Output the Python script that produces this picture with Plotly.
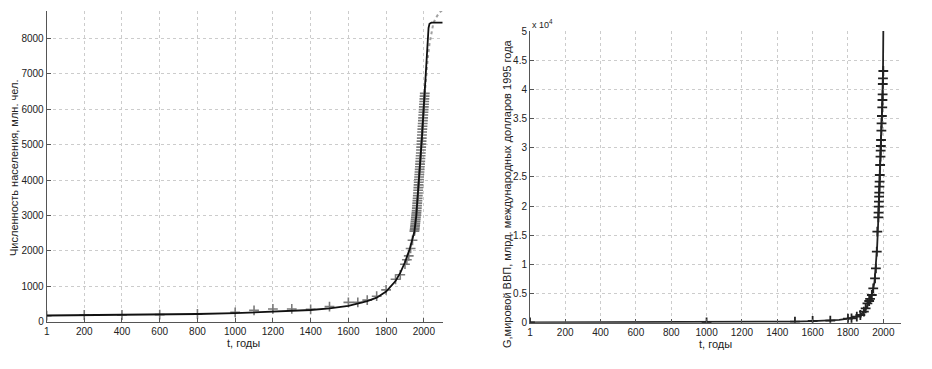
import plotly.graph_objects as go

# ---------------- Left chart: world population ----------------
pop_years = [1, 200, 400, 600, 800, 1000, 1100, 1200, 1300, 1400, 1500, 1600, 1650,
             1700, 1750, 1800, 1850, 1875, 1900, 1910, 1920, 1930, 1940,
             1950, 1951, 1952, 1953, 1954, 1955, 1956, 1957, 1958, 1959,
             1960, 1961, 1962, 1963, 1964, 1965, 1966, 1967, 1968, 1969,
             1970, 1971, 1972, 1973, 1974, 1975, 1976, 1977, 1978, 1979,
             1980, 1981, 1982, 1983, 1984, 1985, 1986, 1987, 1988, 1989,
             1990, 1991, 1992, 1993, 1994, 1995, 1996, 1997, 1998, 1999,
             2000, 2001, 2002, 2003, 2004, 2005]
pop_values = [170, 190, 190, 200, 220, 265, 320, 360, 360, 350, 425, 545, 545,
              610, 720, 900, 1200, 1325, 1625, 1750, 1860, 2070, 2300,
              2557, 2594, 2636, 2682, 2730, 2782, 2835, 2891, 2948, 3001,
              3043, 3084, 3140, 3210, 3281, 3350, 3421, 3490, 3562, 3637,
              3713, 3790, 3867, 3942, 4017, 4089, 4160, 4232, 4304, 4379,
              4454, 4530, 4610, 4690, 4769, 4850, 4932, 5017, 5102, 5188,
              5276, 5360, 5441, 5522, 5602, 5682, 5761, 5839, 5917, 5993,
              6070, 6146, 6222, 6298, 6375, 6451]

model_pop_years = [1, 200, 400, 600, 800, 1000, 1200, 1400, 1500, 1600, 1700, 1750,
                   1800, 1850, 1875, 1900, 1925, 1950, 1960, 1970, 1980, 1990,
                   2000, 2005, 2010, 2015, 2020, 2025, 2030, 2035, 2040, 2060, 2100]
model_pop_values = [175, 183, 192, 203, 218, 240, 275, 330, 375, 450, 580, 680,
                    850, 1150, 1380, 1680, 2050, 2550, 3000, 3650, 4400, 5200,
                    6100, 6550, 7000, 7500, 7950, 8300, 8420, 8445, 8450, 8450, 8450]

forecast_years = [2000, 2010, 2020, 2030, 2040, 2050, 2060, 2070, 2080, 2090, 2100]
forecast_values = [6100, 6800, 7400, 7850, 8200, 8420, 8550, 8650, 8720, 8770, 8810]

# ---------------- Right chart: world GDP ----------------
gdp_years = [1, 1000, 1500, 1600, 1700, 1800, 1820, 1850, 1870, 1890, 1900, 1910,
             1920, 1925, 1935, 1943, 1953, 1958, 1963, 1966,
             1972, 1973, 1974, 1975, 1976, 1977, 1978, 1979, 1980, 1982, 1984,
             1985, 1986, 1987, 1989, 1990, 1992, 1994, 1995, 1996, 1997, 1998, 2000]
gdp_values = [30, 60, 171, 290, 340, 700, 740, 1030, 1320, 1890, 2460, 3320,
              3720, 4100, 4750, 5890, 7610, 9320, 12170, 15600,
              18057, 18857, 19886, 20743, 21600, 22286, 23314, 24171, 25314, 27029, 28457,
              29486, 30286, 31314, 32914, 34171, 35429, 36914, 38171, 39143, 40914, 41886, 43143]

model_gdp_years = [1, 500, 1000, 1200, 1400, 1500, 1600, 1700, 1750, 1800, 1850,
                   1875, 1900, 1925, 1940, 1950, 1960, 1965, 1970, 1975, 1980,
                   1985, 1990, 1995, 1998, 1999, 2000]
model_gdp_values = [40, 60, 90, 120, 160, 190, 270, 380, 500, 680, 1100,
                    1450, 2300, 3900, 5400, 7000, 10500, 13000, 16500, 20500, 25000,
                    29500, 34000, 38500, 42500, 45000, 50000]

x_ticks = [1, 200, 400, 600, 800, 1000, 1200, 1400, 1600, 1800, 2000]
x_ticktext = [str(v) for v in x_ticks]
pop_yticks = [0, 1000, 2000, 3000, 4000, 5000, 6000, 7000, 8000]
gdp_yticks = [0, 5000, 10000, 15000, 20000, 25000, 30000, 35000, 40000, 45000, 50000]
gdp_yticktext = ["0", "0.5", "1", "1.5", "2", "2.5", "3", "3.5", "4", "4.5", "5"]

W, H = 932, 369
FONT = "Liberation Sans, Arial, sans-serif"
TXT = "#222222"

fig = go.Figure()

fig.add_trace(go.Scatter(x=forecast_years, y=forecast_values, mode="lines",
                         line=dict(color="#a0a0a0", width=2, dash="dot"),
                         xaxis="x", yaxis="y", showlegend=False))
fig.add_trace(go.Scatter(x=pop_years, y=pop_values, mode="markers",
                         marker=dict(symbol="cross-thin", size=7,
                                     line=dict(width=1.6, color="#7a7a7a")),
                         xaxis="x", yaxis="y", showlegend=False))
fig.add_trace(go.Scatter(x=model_pop_years, y=model_pop_values, mode="lines",
                         line=dict(color="#111111", width=1.8),
                         xaxis="x", yaxis="y", showlegend=False))

fig.add_trace(go.Scatter(x=model_gdp_years, y=model_gdp_values, mode="lines",
                         line=dict(color="#222222", width=1.8),
                         xaxis="x2", yaxis="y2", showlegend=False))
fig.add_trace(go.Scatter(x=gdp_years, y=gdp_values, mode="markers",
                         marker=dict(symbol="cross-thin", size=7,
                                     line=dict(width=1.8, color="#222222")),
                         xaxis="x2", yaxis="y2", showlegend=False))

def xax(domain, anchor):
    return dict(domain=domain, anchor=anchor, range=[1, 2100], tickvals=x_ticks,
                ticktext=x_ticktext, showgrid=True, gridcolor="#cccccc",
                griddash="dot", gridwidth=1, showline=True, linecolor="#555555",
                linewidth=1, ticks="inside", ticklen=4, tickcolor="#555555",
                zeroline=False, tickfont=dict(size=10, color=TXT, family=FONT),
                fixedrange=True, automargin=False)

def yax(domain, anchor, rng, tv, tt):
    return dict(domain=domain, anchor=anchor, range=rng, tickvals=tv, ticktext=tt,
                showgrid=True, gridcolor="#cccccc", griddash="dot", gridwidth=1,
                showline=True, linecolor="#555555", linewidth=1, ticks="inside",
                ticklen=4, tickcolor="#555555", zeroline=False,
                tickfont=dict(size=10, color=TXT, family=FONT), fixedrange=True,
                automargin=False)

def ann(text, x, y, angle=0, size=11, xanchor="center"):
    return dict(text=text, textangle=angle, x=x / W, y=1 - y / H, xref="paper",
                yref="paper", xanchor=xanchor, yanchor="middle", showarrow=False,
                font=dict(size=size, color=TXT, family=FONT))

fig.update_layout(
    template="none",
    width=W, height=H, autosize=False,
    margin=dict(l=0, r=0, t=0, b=0, pad=0, autoexpand=False),
    paper_bgcolor="white", plot_bgcolor="white",
    font=dict(family=FONT, color=TXT),
    xaxis=xax([46.7 / W, 442.7 / W], "y"),
    yaxis=yax([1 - 321.7 / H, 1 - 11 / H], "x", [0, 8780], pop_yticks,
              [str(v) for v in pop_yticks]),
    xaxis2=xax([530 / W, 901 / W], "y2"),
    yaxis2=yax([1 - 322.7 / H, 1 - 31 / H], "x2", [0, 50000], gdp_yticks, gdp_yticktext),
    annotations=[
        ann("Численность населения, млн. чел.", 14, 168, angle=-90),
        ann("t, годы", 243, 343),
        ann("G,мировой ВВП, млрд. международных долларов 1995 года", 507, 193, angle=-90),
        ann("t, годы", 715, 344),
        ann("x 10<sup>4</sup>", 530, 24, size=9, xanchor="left"),
    ],
)

fig.write_html("out.html",
               config={"displayModeBar": False, "staticPlot": True},
               post_script="document.body.style.margin='0';"
                           "document.body.style.overflow='hidden';")
